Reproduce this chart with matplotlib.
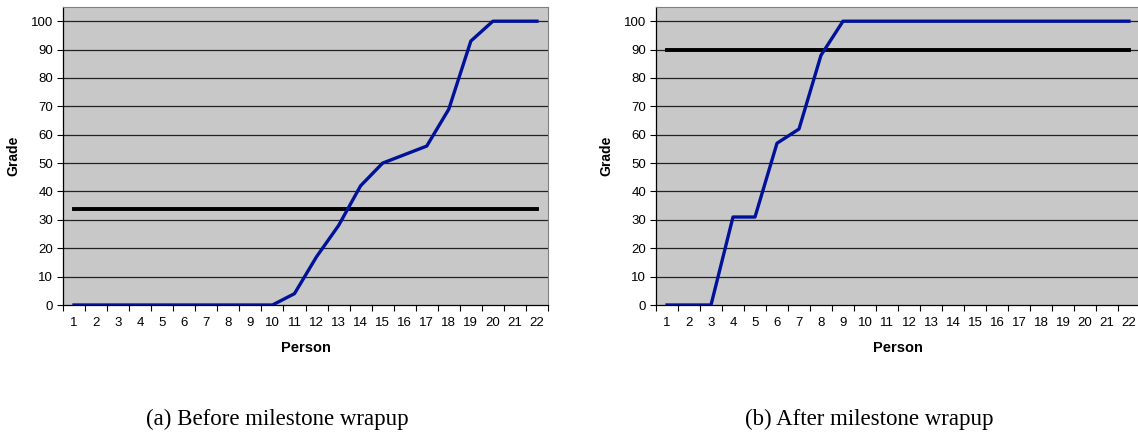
import numpy as np
import matplotlib.pyplot as plt

# Data
persons = list(range(1, 23))
grades_before = [0, 0, 0, 0, 0, 0, 0, 0, 0, 0, 4, 17, 28, 42, 50, 53, 56, 69, 93, 100, 100, 100]
grades_after = [0, 0, 0, 31, 31, 57, 62, 88, 100, 100, 100, 100, 100, 100, 100, 100, 100, 100, 100, 100, 100, 100]
threshold_before = 34
threshold_after = 90
captions = ["(a) Before milestone wrapup", "(b) After milestone wrapup"]

W, H = 1138, 432
fig = plt.figure(figsize=(W / 100, H / 100), dpi=100)
plt.rcParams['font.family'] = ['Liberation Sans', 'DejaVu Sans']


def draw_panel(left_px, right_px, grades, threshold, caption):
    ax = fig.add_axes([left_px / W, (H - 305) / H, (right_px - left_px) / W, 298 / H])
    ax.set_facecolor('#c8c8c8')
    ax.set_xlim(0.5, 22.5)
    ax.set_ylim(0, 105)
    ax.set_yticks(np.arange(0, 101, 10))
    for y in range(10, 101, 10):
        ax.axhline(y, color='#222222', lw=0.9, zorder=1)
    ax.plot(persons, [threshold] * len(persons), color='black', lw=2.8, zorder=2)
    ax.plot(persons, grades, color='#00129a', lw=2.4, zorder=3)

    # category axis: ticks between persons, labels centred on them
    ax.set_xticks(np.arange(0.5, 23, 1))
    ax.set_xticklabels([])
    ax.set_xticks(persons, minor=True)
    ax.set_xticklabels([str(p) for p in persons], minor=True, fontsize=9.5)
    ax.tick_params(axis='x', which='minor', length=0, pad=9)
    ax.tick_params(axis='x', which='major', length=4, direction='out', width=0.8)
    ax.tick_params(axis='y', length=4, direction='out', width=0.8, labelsize=9.5, pad=3)

    for s in ['top', 'right']:
        ax.spines[s].set_color('#808080')
        ax.spines[s].set_linewidth(0.8)
    ax.spines['left'].set_linewidth(0.9)
    ax.spines['bottom'].set_linewidth(0.9)

    ax.set_ylabel('Grade', fontsize=10, fontweight='bold', labelpad=8)
    ax.set_xlabel('Person', fontsize=10.5, fontweight='bold', labelpad=8)

    cx = (left_px + right_px) / 2 / W - 0.025
    fig.text(cx, 1 - 419 / H, caption, ha='center', va='center',
             fontsize=16.5, family='Liberation Serif')
    return ax


draw_panel(63, 548, grades_before, threshold_before, captions[0])
draw_panel(656, 1140, grades_after, threshold_after, captions[1])

fig.savefig('out.png', dpi=100)
